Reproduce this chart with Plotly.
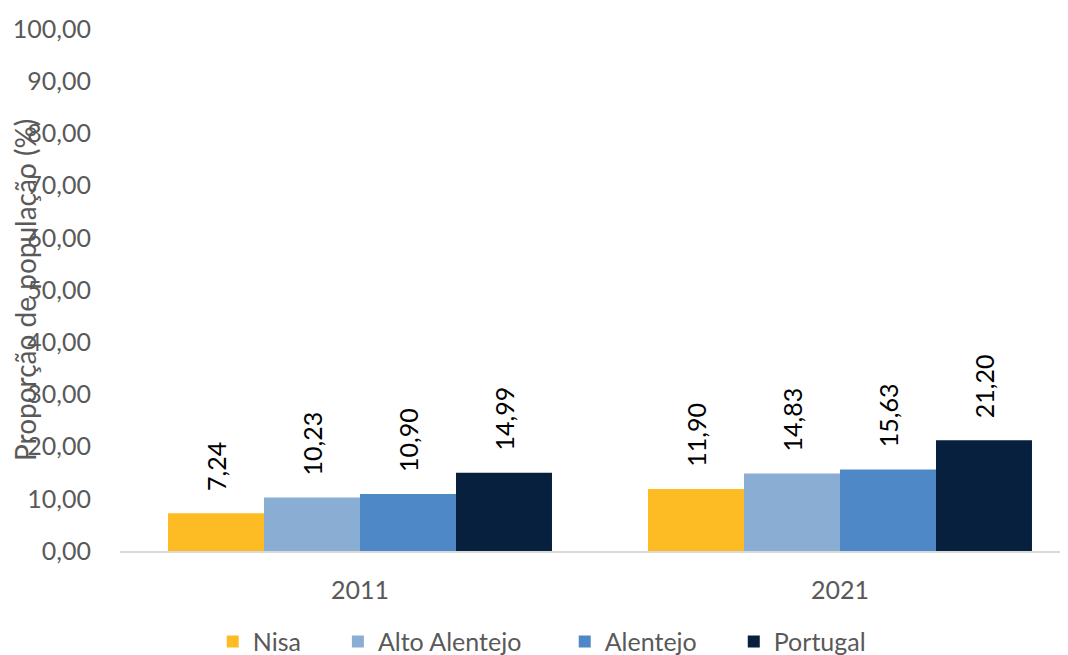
import plotly.graph_objects as go

years = ["2011", "2021"]
series_names = ["Nisa", "Alto Alentejo", "Alentejo", "Portugal"]
nisa = [7.24, 11.90]
alto_alentejo = [10.23, 14.83]
alentejo = [10.90, 15.63]
portugal = [14.99, 21.20]
series_values = [nisa, alto_alentejo, alentejo, portugal]
colors = ["#FDBB24", "#8AADD3", "#4F88C6", "#06203D"]
y_ticks = [0, 10, 20, 30, 40, 50, 60, 70, 80, 90, 100]

FONT = "Lato"
GRAY = "#595959"
legend_pad = [5, 6, 5, 0]

fig = go.Figure()
for name, vals, col, pad in zip(series_names, series_values, colors, legend_pad):
    fig.add_trace(go.Bar(
        x=years, y=vals,
        name=name + "\u00a0" * pad,
        marker=dict(color=col, line=dict(width=0)),
        text=["\u00a0\u00a0\u00a0" + f"{v:.2f}".replace(".", ",") for v in vals],
        textposition="outside", textangle=-90, cliponaxis=False,
        textfont=dict(family=FONT, size=25, color="#000000"),
    ))

fig.update_layout(
    width=1068, height=655,
    margin=dict(l=112, r=0, t=21, b=112, autoexpand=False),
    paper_bgcolor="white", plot_bgcolor="white",
    barmode="group", bargap=0.2, bargroupgap=0,
    separators=",.",
    font=dict(family=FONT, size=25, color=GRAY),
    showlegend=True,
    legend=dict(orientation="h", x=0.097, xanchor="left", y=-0.13, yanchor="top",
                font=dict(family=FONT, size=25, color=GRAY), itemwidth=30,
                traceorder="normal"),
    xaxis=dict(range=[-0.5, 1.4917], showline=True, linecolor="#D9D9D9", linewidth=1.5,
               showgrid=False, ticks="", ticklabelstandoff=16,
               tickfont=dict(family=FONT, size=25, color=GRAY)),
    yaxis=dict(range=[0, 100], tickvals=y_ticks, tickformat=".2f", showgrid=False,
               zeroline=False, showline=False, ticks="", ticklabelstandoff=28,
               tickfont=dict(family=FONT, size=25, color=GRAY)),
    annotations=[dict(text="Proporção de população (%)", xref="paper", yref="paper",
                      x=0, y=0.5, xanchor="center", yanchor="middle", xshift=-95,
                      textangle=-90, showarrow=False,
                      font=dict(family=FONT, size=28, color=GRAY))],
)

fig.write_html("out.html")
